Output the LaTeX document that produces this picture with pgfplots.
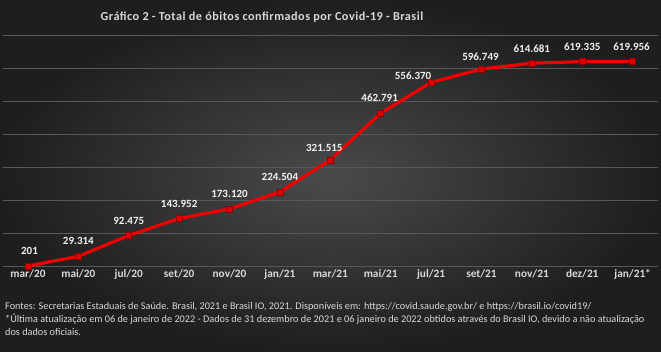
\documentclass[border=0pt]{standalone}
\usepackage{pgfplots}
\pgfplotsset{compat=1.18}
\usepackage{fontspec}
\setmainfont{Carlito}
\definecolor{bgin}{RGB}{74,74,74}
\definecolor{bgout}{RGB}{30,30,30}
\definecolor{gridc}{RGB}{88,88,88}
\definecolor{txt}{RGB}{217,217,217}
\definecolor{lab}{RGB}{242,242,242}
\definecolor{lred}{RGB}{240,0,0}
\definecolor{mred}{RGB}{225,0,0}
\definecolor{mdark}{RGB}{150,0,0}
\pgfplotstableread{
x y dx dy label
0 201 1.5 0 201
1 29314 0 0 29.314
2 92475 0 0 92.475
3 143952 0 0 143.952
4 173120 0 0 173.120
5 224504 0 0 224.504
6 321515 -6 -3 321.515
7 462791 -1 0 462.791
8 556370 -18 -8 556.370
9 596749 -1 -3 596.749
10 614681 0 -1 614.681
11 619335 0 0 619.335
12 619956 -1 0 619.956
}\deaths
\begin{document}
\begin{tikzpicture}
\shade[inner color=bgin, outer color=bgout] (0pt,0pt) rectangle (661pt,352pt);
\node[font=\bfseries\fontsize{12.2}{14}\selectfont\addfontfeatures{LetterSpace=4}, text=txt, anchor=center] at (262pt,335pt) {Gráfico 2 - Total de óbitos confirmados por Covid-19 - Brasil};
\begin{axis}[
  at={(2.8pt,86pt)}, anchor=south west,
  scale only axis, width=655pt, height=231pt,
  xmin=-0.5, xmax=12.5, ymin=0, ymax=700000,
  scaled y ticks=false,
  axis line style={draw=none},
  major tick length=0pt,
  ytick={0,100000,...,700000}, yticklabels={},
  ymajorgrids, grid style={gridc, line width=0.5pt},
  xtick={0,...,12},
  xticklabels={mar/20,mai/20,jul/20,set/20,nov/20,jan/21,mar/21,mai/21,jul/21,set/21,nov/21,dez/21,jan/21*},
  xticklabel style={font=\bfseries\fontsize{11.3}{13}\selectfont, text=txt, anchor=base, yshift=-12pt},
  clip=false,
  nodes near coords,
  point meta=explicit symbolic,
  visualization depends on={\thisrow{dx} \as \dx},
  visualization depends on={\thisrow{dy} \as \dy},
  every node near coord/.append style={font=\bfseries\fontsize{11}{13}\selectfont, text=lab, anchor=center, inner sep=0pt, xshift=\dx pt, yshift=15pt+\dy pt},
]
\addplot[lred, line width=3.2pt, mark=square*, mark size=3pt, mark options={fill=mred, draw=mdark, line width=0.6pt}] table[x=x, y=y, meta=label] {\deaths};
\end{axis}
\begin{scope}[every node/.style={anchor=base west, inner sep=0pt, text=txt, font=\fontsize{10.25}{12}\selectfont}]
\node at (5pt,42pt) {Fontes: Secretarias Estaduais de Saúde. Brasil, 2021 e Brasil IO, 2021. Disponíveis em: https://covid.saude.gov.br/ e https://brasil.io/covid19/};
\node at (5pt,29pt) {*Última atualização em 06 de janeiro de 2022 - Dados de 31 dezembro de 2021 e 06 janeiro de 2022 obtidos através do Brasil IO, devido a não atualização};
\node at (5pt,16pt) {dos dados oficiais.};
\end{scope}
\pgfresetboundingbox
\path[use as bounding box] (0pt,0pt) rectangle (661pt,352pt);
\end{tikzpicture}
\end{document}
